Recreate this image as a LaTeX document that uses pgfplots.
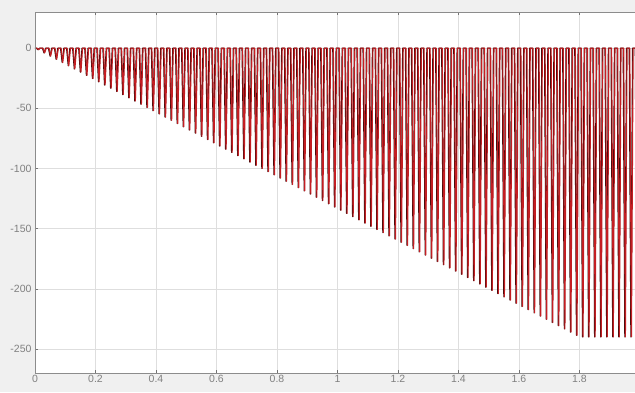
\documentclass[border=0pt]{standalone}
\usepackage{fontspec}
\setmainfont{Liberation Sans}
\usepackage{pgfplots}
\usepackage{pgfplotstable}
\pgfplotsset{compat=1.18}
\definecolor{figbg}{RGB}{240,240,240}
\definecolor{sigred}{RGB}{195,30,35}
\definecolor{sigdark}{RGB}{60,10,10}
\pgfplotstableread[row sep=\\]{
t y\\
0 0\\
0.0045 0\\ 0.0100 -1.33\\ 0.0155 0\\
0.0245 0\\ 0.0300 -4.00\\ 0.0355 0\\
0.0445 0\\ 0.0500 -6.67\\ 0.0555 0\\
0.0645 0\\ 0.0700 -9.33\\ 0.0755 0\\
0.0845 0\\ 0.0900 -12.00\\ 0.0955 0\\
0.1045 0\\ 0.1100 -14.67\\ 0.1155 0\\
0.1245 0\\ 0.1300 -17.33\\ 0.1355 0\\
0.1445 0\\ 0.1500 -20.00\\ 0.1555 0\\
0.1645 0\\ 0.1700 -22.67\\ 0.1755 0\\
0.1845 0\\ 0.1900 -25.33\\ 0.1955 0\\
0.2045 0\\ 0.2100 -28.00\\ 0.2155 0\\
0.2245 0\\ 0.2300 -30.67\\ 0.2355 0\\
0.2445 0\\ 0.2500 -33.33\\ 0.2555 0\\
0.2645 0\\ 0.2700 -36.00\\ 0.2755 0\\
0.2845 0\\ 0.2900 -38.67\\ 0.2955 0\\
0.3045 0\\ 0.3100 -41.33\\ 0.3155 0\\
0.3245 0\\ 0.3300 -44.00\\ 0.3355 0\\
0.3445 0\\ 0.3500 -46.67\\ 0.3555 0\\
0.3645 0\\ 0.3700 -49.33\\ 0.3755 0\\
0.3845 0\\ 0.3900 -52.00\\ 0.3955 0\\
0.4045 0\\ 0.4100 -54.67\\ 0.4155 0\\
0.4245 0\\ 0.4300 -57.33\\ 0.4355 0\\
0.4445 0\\ 0.4500 -60.00\\ 0.4555 0\\
0.4645 0\\ 0.4700 -62.67\\ 0.4755 0\\
0.4845 0\\ 0.4900 -65.33\\ 0.4955 0\\
0.5045 0\\ 0.5100 -68.00\\ 0.5155 0\\
0.5245 0\\ 0.5300 -70.67\\ 0.5355 0\\
0.5445 0\\ 0.5500 -73.33\\ 0.5555 0\\
0.5645 0\\ 0.5700 -76.00\\ 0.5755 0\\
0.5845 0\\ 0.5900 -78.67\\ 0.5955 0\\
0.6045 0\\ 0.6100 -81.33\\ 0.6155 0\\
0.6245 0\\ 0.6300 -84.00\\ 0.6355 0\\
0.6445 0\\ 0.6500 -86.67\\ 0.6555 0\\
0.6645 0\\ 0.6700 -89.33\\ 0.6755 0\\
0.6845 0\\ 0.6900 -92.00\\ 0.6955 0\\
0.7045 0\\ 0.7100 -94.67\\ 0.7155 0\\
0.7245 0\\ 0.7300 -97.33\\ 0.7355 0\\
0.7445 0\\ 0.7500 -100.00\\ 0.7555 0\\
0.7645 0\\ 0.7700 -102.67\\ 0.7755 0\\
0.7845 0\\ 0.7900 -105.33\\ 0.7955 0\\
0.8045 0\\ 0.8100 -108.00\\ 0.8155 0\\
0.8245 0\\ 0.8300 -110.67\\ 0.8355 0\\
0.8445 0\\ 0.8500 -113.33\\ 0.8555 0\\
0.8645 0\\ 0.8700 -116.00\\ 0.8755 0\\
0.8845 0\\ 0.8900 -118.67\\ 0.8955 0\\
0.9045 0\\ 0.9100 -121.33\\ 0.9155 0\\
0.9245 0\\ 0.9300 -124.00\\ 0.9355 0\\
0.9445 0\\ 0.9500 -126.67\\ 0.9555 0\\
0.9645 0\\ 0.9700 -129.33\\ 0.9755 0\\
0.9845 0\\ 0.9900 -132.00\\ 0.9955 0\\
1.0045 0\\ 1.0100 -134.67\\ 1.0155 0\\
1.0245 0\\ 1.0300 -137.33\\ 1.0355 0\\
1.0445 0\\ 1.0500 -140.00\\ 1.0555 0\\
1.0645 0\\ 1.0700 -142.67\\ 1.0755 0\\
1.0845 0\\ 1.0900 -145.33\\ 1.0955 0\\
1.1045 0\\ 1.1100 -148.00\\ 1.1155 0\\
1.1245 0\\ 1.1300 -150.67\\ 1.1355 0\\
1.1445 0\\ 1.1500 -153.33\\ 1.1555 0\\
1.1645 0\\ 1.1700 -156.00\\ 1.1755 0\\
1.1845 0\\ 1.1900 -158.67\\ 1.1955 0\\
1.2045 0\\ 1.2100 -161.33\\ 1.2155 0\\
1.2245 0\\ 1.2300 -164.00\\ 1.2355 0\\
1.2445 0\\ 1.2500 -166.67\\ 1.2555 0\\
1.2645 0\\ 1.2700 -169.33\\ 1.2755 0\\
1.2845 0\\ 1.2900 -172.00\\ 1.2955 0\\
1.3045 0\\ 1.3100 -174.67\\ 1.3155 0\\
1.3245 0\\ 1.3300 -177.33\\ 1.3355 0\\
1.3445 0\\ 1.3500 -180.00\\ 1.3555 0\\
1.3645 0\\ 1.3700 -182.67\\ 1.3755 0\\
1.3845 0\\ 1.3900 -185.33\\ 1.3955 0\\
1.4045 0\\ 1.4100 -188.00\\ 1.4155 0\\
1.4245 0\\ 1.4300 -190.67\\ 1.4355 0\\
1.4445 0\\ 1.4500 -193.33\\ 1.4555 0\\
1.4645 0\\ 1.4700 -196.00\\ 1.4755 0\\
1.4845 0\\ 1.4900 -198.67\\ 1.4955 0\\
1.5045 0\\ 1.5100 -201.33\\ 1.5155 0\\
1.5245 0\\ 1.5300 -204.00\\ 1.5355 0\\
1.5445 0\\ 1.5500 -206.67\\ 1.5555 0\\
1.5645 0\\ 1.5700 -209.33\\ 1.5755 0\\
1.5845 0\\ 1.5900 -212.00\\ 1.5955 0\\
1.6045 0\\ 1.6100 -214.67\\ 1.6155 0\\
1.6245 0\\ 1.6300 -217.33\\ 1.6355 0\\
1.6445 0\\ 1.6500 -220.00\\ 1.6555 0\\
1.6645 0\\ 1.6700 -222.67\\ 1.6755 0\\
1.6845 0\\ 1.6900 -225.33\\ 1.6955 0\\
1.7045 0\\ 1.7100 -228.00\\ 1.7155 0\\
1.7245 0\\ 1.7300 -230.67\\ 1.7355 0\\
1.7445 0\\ 1.7500 -233.33\\ 1.7555 0\\
1.7645 0\\ 1.7700 -236.00\\ 1.7755 0\\
1.7845 0\\ 1.7900 -238.67\\ 1.7955 0\\
1.8045 0\\ 1.8100 -240.00\\ 1.8155 0\\
1.8245 0\\ 1.8300 -240.00\\ 1.8355 0\\
1.8445 0\\ 1.8500 -240.00\\ 1.8555 0\\
1.8645 0\\ 1.8700 -240.00\\ 1.8755 0\\
1.8845 0\\ 1.8900 -240.00\\ 1.8955 0\\
1.9045 0\\ 1.9100 -240.00\\ 1.9155 0\\
1.9245 0\\ 1.9300 -240.00\\ 1.9355 0\\
1.9445 0\\ 1.9500 -240.00\\ 1.9555 0\\
1.9645 0\\ 1.9700 -240.00\\ 1.9755 0\\
1.9845 0\\ 1.9900 -240.00\\ 1.9955 0\\
}\sig
\begin{document}
\begin{tikzpicture}
\fill[figbg] (-35pt,-19pt) rectangle (600pt,373pt);
\begin{axis}[
  name=ax,
  at={(0,0)}, anchor=south west,
  scale only axis, width=600pt, height=361pt,
  xmin=0, xmax=1.9835, ymin=-270, ymax=30,
  xtick={0,0.2,0.4,0.6,0.8,1,1.2,1.4,1.6,1.8},
  xticklabels={0,0.2,0.4,0.6,0.8,1,1.2,1.4,1.6,1.8},
  ytick={-250,-200,-150,-100,-50,0},
  yticklabels={-250,-200,-150,-100,-50,0},
  ytick pos=left,
  grid=major,
  major grid style={black!13, line width=0.5pt},
  tick align=inside,
  major tick length=3pt,
  tick style={black!55, line width=0.5pt},
  axis line style={draw=none},
  axis background/.style={fill=white},
  tick label style={black!50, font=\fontsize{10.5}{12}\selectfont},
  xticklabel style={yshift=1pt},
  /pgf/number format/assume math mode=true,
]
\addplot[sigdark, line width=1.2pt, line join=round] table[x=t, y=y] {\sig};
\addplot[sigred, line width=1.1pt, line join=round] table[x expr=\thisrow{t}+0.0018, y=y] {\sig};
\end{axis}
\draw[black!45, line width=0.5pt] (ax.north east) -- (ax.north west) -- (ax.south west) -- (ax.south east);
\pgfresetboundingbox
\path (-35pt,-19pt) rectangle (600pt,373pt);
\end{tikzpicture}
\end{document}
